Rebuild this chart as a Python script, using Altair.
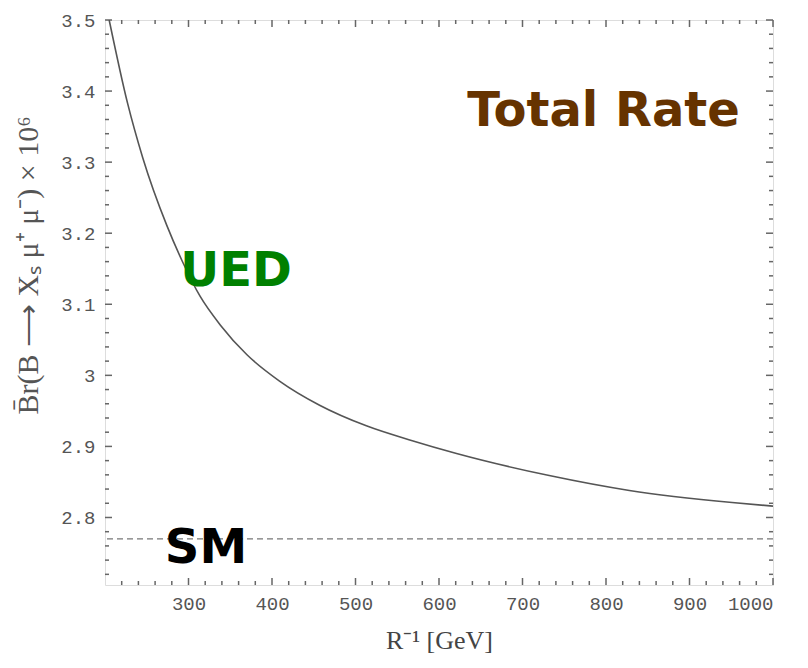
import altair as alt
import pandas as pd

# UED curve
r_inv = [205, 227, 245, 274, 292, 314, 338, 370, 409, 457, 513, 568, 621, 732, 828, 951, 1000]
br_ued = [3.500, 3.383, 3.307, 3.211, 3.162, 3.111, 3.071, 3.029, 2.992, 2.958, 2.929, 2.908, 2.890, 2.859, 2.838, 2.821, 2.816]
sm_value = 2.77

x_major = [300, 400, 500, 600, 700, 800, 900, 1000]
x_minor = [v for v in range(220, 1000, 20) if v % 100 != 0]
y_major = [2.8, 2.9, 3.0, 3.1, 3.2, 3.3, 3.4, 3.5]
y_minor = [round(2.72 + 0.02 * i, 2) for i in range(39) if round((2.72 + 0.02 * i) * 10, 6) % 1 != 0]

W, H = 668, 565
xdom = [200, 1000]
ydom = [2.705, 3.5]

xs = alt.Scale(domain=xdom, nice=False, zero=False)
ys = alt.Scale(domain=ydom, nice=False, zero=False)

curve_df = pd.DataFrame({"r": r_inv, "br": br_ued})

label_font = "Liberation Mono"
base_x_axis = alt.Axis(values=x_major, format="d", labelFont=label_font, labelFontSize=19,
                       labelColor="#555", ticks=False, domain=False, grid=False,
                       labelPadding=9, title="R⁻¹ [GeV]", titleFont="Liberation Serif",
                       titleFontSize=26, titleFontWeight="normal", titleColor="#444", titlePadding=14)
base_y_axis = alt.Axis(values=y_major, format="~g", labelFont=label_font, labelFontSize=19,
                       labelColor="#555", ticks=False, domain=False, grid=False,
                       labelPadding=10, title="B̄r(B ⟶ Xₛ μ⁺ μ⁻) × 10⁶", titleFont="Liberation Serif",
                       titleFontSize=30, titleFontWeight="normal", titleColor="#555",
                       titleX=-62, titleY=245)

curve = alt.Chart(curve_df).mark_line(color="#555", strokeWidth=1.6, interpolate="monotone", clip=True).encode(
    x=alt.X("r:Q", scale=xs, axis=base_x_axis),
    y=alt.Y("br:Q", scale=ys, axis=base_y_axis),
)

sm = alt.Chart(pd.DataFrame({"v": [sm_value]})).mark_rule(color="#777", strokeWidth=1.3, strokeDash=[6, 4]).encode(
    y=alt.Y("v:Q", scale=ys),
)

def xticks(vals, size):
    d = pd.DataFrame({"t": vals})
    bot = alt.Chart(d).mark_rule(color="#666", strokeWidth=1.5).encode(
        x=alt.X("t:Q", scale=xs), y=alt.value(H), y2=alt.value(H - size))
    top = alt.Chart(d).mark_rule(color="#666", strokeWidth=1.5).encode(
        x=alt.X("t:Q", scale=xs), y=alt.value(0), y2=alt.value(size))
    return bot + top

def yticks(vals, size):
    d = pd.DataFrame({"t": vals})
    left = alt.Chart(d).mark_rule(color="#666", strokeWidth=1.5).encode(
        y=alt.Y("t:Q", scale=ys), x=alt.value(0), x2=alt.value(size))
    right = alt.Chart(d).mark_rule(color="#666", strokeWidth=1.5).encode(
        y=alt.Y("t:Q", scale=ys), x=alt.value(W), x2=alt.value(W - size))
    return left + right

texts = pd.DataFrame({
    "label": ["Total Rate", "UED", "SM"],
    "x": [797, 357, 321],
    "y": [3.370, 3.145, 2.755],
    "color": ["#663300", "#008000", "#000000"],
})

text_layer = alt.Chart(texts).mark_text(font="Comic Sans MS, DejaVu Sans", fontWeight="bold", fontSize=48,
                                        align="center", baseline="middle").encode(
    x=alt.X("x:Q", scale=xs),
    y=alt.Y("y:Q", scale=ys),
    text="label:N",
    color=alt.Color("color:N", scale=None),
)

chart = alt.layer(
    xticks(x_major, 7), xticks(x_minor, 4), yticks(y_major, 7), yticks(y_minor, 4),
    sm, curve, text_layer,
).properties(
    width=W, height=H,
    autosize=alt.AutoSizeParams(type="none"),
    padding={"left": 97, "top": 12, "right": 27, "bottom": 75},
).configure_view(stroke="#777", strokeWidth=2).configure(background="white")

chart.save("out.html", embed_options={"renderer": "svg", "actions": False})
